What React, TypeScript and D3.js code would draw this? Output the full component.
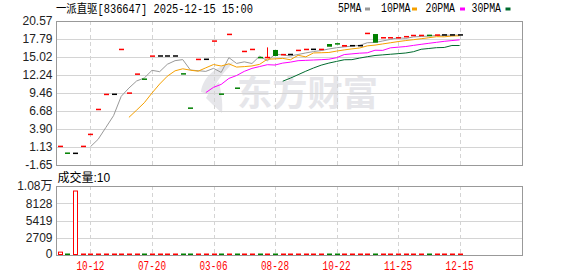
import React from 'react';
import * as d3 from 'd3';

// ---------- data ----------
const title = '一派直驱[836647] 2025-12-15 15:00';
const opens = [1.20, 0.19, 0.15, 1.20, 3.05, 6.90, 9.22, 9.26, 16.16, 9.42, 12.35, 11.61, 15.13, 15.17, 15.17, 15.17, 12.43, 7.14, 14.62, 14.66, 17.45, 9.30, 18.48, 10.22, 15.85, 16.16, 14.94, 14.86, 16.10, 15.36, 15.40, 16.01, 16.16, 16.20, 16.16, 17.02, 17.06, 16.61, 16.76, 16.76, 18.63, 18.56, 17.96, 17.96, 17.96, 18.10, 18.30, 18.32, 18.40, 18.38, 18.42, 18.42, 18.42];
const closes = [1.24, 0.15, 0.15, 1.24, 3.09, 6.94, 9.26, 9.26, 16.20, 9.46, 12.39, 11.57, 15.17, 15.17, 15.17, 15.17, 12.39, 7.10, 14.66, 14.66, 17.49, 9.26, 18.52, 10.18, 15.89, 16.20, 14.90, 15.00, 15.17, 15.40, 15.40, 16.05, 16.20, 16.20, 16.20, 16.60, 17.02, 16.87, 16.76, 16.76, 18.67, 17.23, 18.00, 18.00, 18.00, 18.20, 18.36, 18.36, 18.30, 18.42, 18.42, 18.42, 18.42];
const highs = [1.24, 0.19, 0.15, 1.24, 3.09, 6.94, 9.26, 9.26, 16.20, 9.46, 12.39, 11.61, 15.17, 15.17, 15.17, 15.17, 12.43, 7.14, 14.66, 14.66, 17.49, 9.30, 18.52, 10.22, 15.89, 16.20, 14.94, 16.50, 16.10, 15.40, 15.40, 16.05, 16.20, 16.20, 16.20, 17.02, 17.06, 16.87, 16.76, 16.76, 18.67, 18.56, 18.00, 18.00, 18.00, 18.20, 18.36, 18.36, 18.40, 18.42, 18.42, 18.42, 18.42];
const lows = [1.20, 0.15, 0.15, 1.20, 3.05, 6.90, 9.22, 9.26, 16.16, 9.42, 12.35, 11.57, 15.13, 15.17, 15.17, 15.17, 12.39, 7.10, 14.62, 14.66, 17.45, 9.26, 18.48, 10.18, 15.85, 16.16, 14.90, 14.86, 15.17, 15.36, 15.40, 16.01, 16.16, 16.20, 16.16, 16.60, 17.02, 16.61, 16.76, 16.76, 18.63, 17.23, 17.96, 17.96, 17.96, 18.10, 18.30, 18.32, 18.30, 18.38, 18.42, 18.42, 18.42];
const volumes = [450, 20, 10050, 10, 20, 10, 20, 10, 30, 10, 20, 10, 20, 10, 10, 10, 20, 10, 20, 10, 10, 20, 10, 20, 10, 10, 20, 30, 20, 10, 10, 20, 10, 10, 10, 20, 10, 20, 10, 10, 20, 30, 10, 10, 10, 20, 10, 10, 20, 10, 10, 10, 10];
const priceTicks = [20.57, 17.79, 15.02, 12.24, 9.46, 6.68, 3.90, 1.13, -1.65];
const volTicks = [0, 2709, 5419, 8128, 10838];
const volTickLabels = ['0', '2709', '5419', '8128', '1.08万'];
const dateTickIndex = [4, 12, 20, 28, 36, 44, 52];
const dateTickLabels = ['10-12', '07-20', '03-06', '08-28', '10-22', '11-25', '12-15'];
const maNames = ['5PMA', '10PMA', '20PMA', '30PMA'];
const maPeriods = [5, 10, 20, 30];
const volumeLabel = '成交量';
const lastVolume = 10;
const watermark = '东方财富';

// ---------- style ----------
const maColors = ['#999999', '#f5a000', '#ff00ff', '#006b2e'];
const RED = '#ff0000';
const GREEN = '#008000';
const FRAME = '#999999';
const GRID = '#d4d4d4';
const SANS = 'Liberation Sans, Noto Sans CJK SC, sans-serif';
const MONO = 'Liberation Mono, Noto Sans CJK SC, monospace';

const L = 56, R = 522, T = 21, B = 165, VT = 186, VB = 255;

export default function App() {
  const x = d3.scaleLinear().domain([0, closes.length - 1]).range([59.7, 459.6]);
  const y = d3.scaleLinear().domain([priceTicks[priceTicks.length - 1], priceTicks[0]]).range([B, T]);
  const vy = d3.scaleLinear().domain([0, volTicks[volTicks.length - 1]]).range([VB, VT]);
  const cw = 5;

  const mas = maPeriods.map((p) =>
    closes.map((_, i) => (i >= p - 1 ? d3.mean(closes.slice(i - p + 1, i + 1)) as number : null))
  );
  const line = d3.line<number | null>()
    .defined((d) => d !== null)
    .x((_, i) => x(i))
    .y((d) => y(d as number));

  const colorOf = (i: number) => (closes[i] > opens[i] ? RED : closes[i] < opens[i] ? GREEN : '#000000');

  const legendX = [338, 381, 425.5, 471.5];
  const swatchX = [365, 412, 460, 505.5];

  return (
    <svg width={578} height={276} style={{ display: 'block', position: 'absolute', left: 0, top: 0, background: '#fff' }}>
      <rect x={0} y={0} width={578} height={276} fill="#fff" />
      {/* title */}
      <text x={56} y={12.5} fontFamily={MONO} fontSize={12} fill="#000" textLength={197} lengthAdjust="spacingAndGlyphs">{title}</text>
      {/* legend */}
      {maNames.map((n, k) => (
        <g key={n}>
          <text x={legendX[k]} y={12.3} fontFamily={MONO} fontSize={12} fill="#000" textLength={n.length * 6 - 0.5} lengthAdjust="spacingAndGlyphs">{n}</text>
          <rect x={swatchX[k]} y={7.5} width={5} height={3} fill={maColors[k]} />
        </g>
      ))}

      {/* watermark */}
      <g fill="#e6e6ea">
        <path d="M201 92 C203 76 217 66 234 62 C226 70 216 80 211 95 C208 94 204 93 201 92 Z" />
        <path d="M206 98 C210 90 214 86 219 82 C221 92 223 102 222 113 C216 108 211 103 206 98 Z" />
        <text x={237} y={106} fontFamily="Noto Sans CJK SC" fontWeight={700} fontSize={35} textLength={141} lengthAdjust="spacingAndGlyphs">{watermark}</text>
      </g>

      {/* price grid */}
      {priceTicks.slice(1, -1).map((t) => (
        <line key={t} x1={L} x2={R} y1={Math.round(y(t)) + 0.5} y2={Math.round(y(t)) + 0.5} stroke={GRID} strokeWidth={1} />
      ))}
      {volTicks.slice(1, -1).map((t) => (
        <line key={t} x1={L} x2={R} y1={Math.round(vy(t)) + 0.5} y2={Math.round(vy(t)) + 0.5} stroke={GRID} strokeWidth={1} />
      ))}
      {dateTickIndex.map((di) => (
        <g key={di}>
          <line x1={Math.round(x(di)) + 0.5} x2={Math.round(x(di)) + 0.5} y1={T} y2={B} stroke={GRID} strokeDasharray="4,3" />
          <line x1={Math.round(x(di)) + 0.5} x2={Math.round(x(di)) + 0.5} y1={VT} y2={VB} stroke={GRID} strokeDasharray="4,3" />
        </g>
      ))}
      {/* frames */}
      <rect x={L + 0.5} y={T + 0.5} width={R - L} height={B - T} fill="none" stroke={FRAME} />
      <rect x={L + 0.5} y={VT + 0.5} width={R - L} height={VB - VT} fill="none" stroke={FRAME} />

      {/* price axis labels */}
      {priceTicks.map((t) => (
        <text key={t} x={52.5} y={y(t) + 4.3} textAnchor="end" fontFamily={SANS} fontSize={12} fill="#222">{t.toFixed(2)}</text>
      ))}
      {volTicks.map((t, k) => (
        <text key={t} x={52.5} y={Math.min(vy(t) + 4.3, 258)} textAnchor="end" fontFamily={SANS} fontSize={12} fill="#222">{volTickLabels[k]}</text>
      ))}
      <text x={57.5} y={181.5} fontFamily={SANS} fontSize={12} fill="#000">{volumeLabel}:{lastVolume}</text>

      {/* date labels */}
      {dateTickIndex.map((di, k) => (
        <text key={di} x={x(di)} y={270} textAnchor="middle" fontFamily={MONO} fontSize={12} fill={RED} textLength={28} lengthAdjust="spacingAndGlyphs">{dateTickLabels[k]}</text>
      ))}

      {/* MA lines */}
      {mas.map((m, k) => (
        <path key={k} d={line(m) || ''} fill="none" stroke={maColors[k]} strokeWidth={1} />
      ))}

      {/* candles */}
      {closes.map((c, i) => {
        const col = colorOf(i);
        const cx = x(i);
        const top = y(Math.max(opens[i], c));
        const bot = y(Math.min(opens[i], c));
        const h = Math.max(1.5, bot - top);
        const hollow = col === RED && bot - top > 2.5;
        return (
          <g key={i}>
            {highs[i] > Math.max(opens[i], c) + 0.01 || lows[i] < Math.min(opens[i], c) - 0.01 ? (
              <line x1={Math.round(cx) + 0.5} x2={Math.round(cx) + 0.5} y1={y(highs[i])} y2={y(lows[i])} stroke={col} />
            ) : null}
            {hollow ? (
              <rect x={Math.round(cx) - 2 + 0.5} y={top} width={cw - 1} height={h} fill="#fff" stroke={col} />
            ) : (
              <rect x={Math.round(cx) - 2} y={top - (h - (bot - top)) / 2} width={cw} height={h} fill={col} />
            )}
          </g>
        );
      })}

      {/* volume bars */}
      {volumes.map((v, i) => {
        const col = closes[i] < opens[i] ? GREEN : RED;
        const cx = Math.round(x(i));
        const top = vy(v);
        const h = Math.max(1.5, VB - top);
        if (VB - top > 2) {
          return <rect key={i} x={cx - 2 + 0.5} y={top} width={cw - 1} height={VB - top - 0.5} fill="#fff" stroke={col} />;
        }
        return <rect key={i} x={cx - 2} y={VB - h} width={cw} height={h} fill={col} />;
      })}
    </svg>
  );
}
